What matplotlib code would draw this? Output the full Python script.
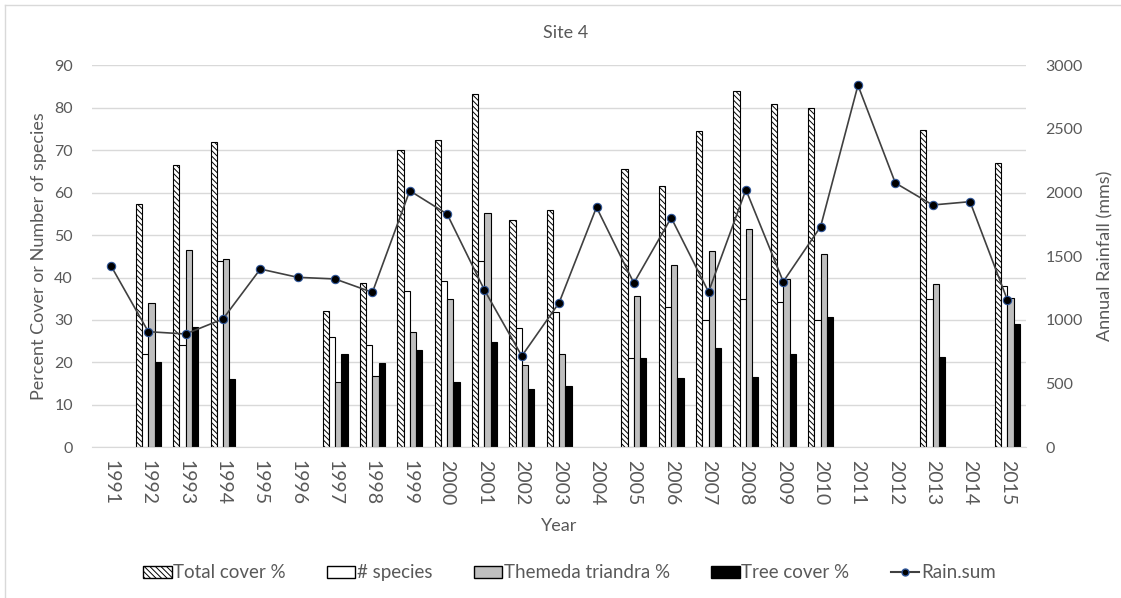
import numpy as np
import matplotlib.pyplot as plt
from matplotlib.patches import Patch
from matplotlib.lines import Line2D

plt.rcParams['font.family'] = ['Lato', 'DejaVu Sans']
plt.rcParams['hatch.linewidth'] = 0.7

nan = np.nan
years = [str(y) for y in range(1991, 2016)]
total_cover = [nan, 57.3, 66.4, 71.9, nan, nan, 32.2, 38.8, 70.0, 72.4, 83.2, 53.6, 56.0,
               nan, 65.6, 61.5, 74.6, 83.9, 80.9, 80.0, nan, nan, 74.8, nan, 66.9]
n_species = [nan, 22.1, 24.1, 44.0, nan, nan, 25.9, 24.0, 36.9, 39.1, 44.0, 28.1, 31.9,
             nan, 21.0, 33.1, 30.0, 34.9, 34.2, 30.0, nan, nan, 35.0, nan, 37.9]
themeda = [nan, 34.1, 46.4, 44.3, nan, nan, 15.5, 16.9, 27.2, 35.0, 55.1, 19.4, 22.1,
           nan, 35.7, 42.9, 46.2, 51.4, 39.6, 45.6, nan, nan, 38.5, nan, 35.2]
tree_cover = [nan, 20.2, 28.4, 16.2, nan, nan, 22.1, 19.9, 22.9, 15.5, 24.9, 13.7, 14.4,
              nan, 21.0, 16.4, 23.5, 16.6, 22.1, 30.6, nan, nan, 21.3, nan, 29.0]
rain_sum = [1426, 908, 890, 1008, 1400, 1335, 1322, 1217, 2015, 1832, 1235, 717, 1136,
            1885, 1290, 1803, 1220, 2023, 1301, 1733, 2843, 2076, 1903, 1929, 1157]

TXT = '#595959'
GRID = '#D9D9D9'
HATCH = '\\\\\\\\\\\\'

fig = plt.figure(figsize=(11.21, 5.98), dpi=100)
ax = fig.add_axes([0.0823, 0.252, 0.833, 0.6388])
x = np.arange(len(years))
w = 0.167

ax.bar(x - 1.5 * w, total_cover, w, color='white', edgecolor='black', linewidth=0.8,
       hatch=HATCH, label='Total cover %')
ax.bar(x - 0.5 * w, n_species, w, color='white', edgecolor='black', linewidth=0.8,
       label='# species')
ax.bar(x + 0.5 * w, themeda, w, color='#BFBFBF', edgecolor='black', linewidth=0.8,
       label='Themeda triandra %')
ax.bar(x + 1.5 * w, tree_cover, w, color='black', edgecolor='black', linewidth=0.8,
       label='Tree cover %')

ax.set_xlim(-0.5, len(years) - 0.5)
ax.set_ylim(0, 90)
ax.set_yticks(range(0, 91, 10))
ax.yaxis.grid(True, color=GRID, linewidth=1)
ax.set_axisbelow(True)
ax.set_xticks(x)
ax.set_xticklabels(years, rotation=270, fontsize=14, color=TXT)
ax.tick_params(axis='y', length=0, labelsize=11.5, labelcolor=TXT, pad=14)
ax.tick_params(axis='x', length=0, pad=9)
for s in ['top', 'left', 'right']:
    ax.spines[s].set_visible(False)
ax.spines['bottom'].set_color(GRID)
ax.set_ylabel('Percent Cover or Number of species', fontsize=13, color=TXT, labelpad=5)
ax.set_xlabel('Year', fontsize=13, color=TXT, labelpad=9)

ax2 = ax.twinx()
ax2.plot(x, rain_sum, color='#404040', linewidth=1.2, marker='o', markersize=6,
         markerfacecolor='black', markeredgecolor='#2F5597', markeredgewidth=0.8)
ax2.set_ylim(0, 3000)
ax2.set_yticks(range(0, 3001, 500))
ax2.tick_params(axis='y', length=0, labelsize=11.5, labelcolor=TXT, pad=14)
for s in ['top', 'left', 'right', 'bottom']:
    ax2.spines[s].set_visible(False)
ax2.set_ylabel('Annual Rainfall (mms)', fontsize=13, color=TXT, labelpad=10)

fig.suptitle('Site 4', x=0.505, y=0.958, fontsize=13, color=TXT)

handles = [
    Patch(facecolor='white', edgecolor='black', hatch=HATCH, label='Total cover %'),
    Patch(facecolor='white', edgecolor='black', label='# species'),
    Patch(facecolor='#BFBFBF', edgecolor='black', label='Themeda triandra %'),
    Patch(facecolor='black', edgecolor='black', label='Tree cover %'),
    Line2D([], [], color='#404040', marker='o', markersize=5, markerfacecolor='black',
           markeredgecolor='#2F5597', label='Rain.sum'),
]
leg = fig.legend(handles=handles, loc='center', bbox_to_anchor=(0.508, 0.042), ncol=5,
                 frameon=False, fontsize=13.5, handlelength=1.5, handleheight=0.6,
                 handletextpad=0.1, columnspacing=2.2)
for t in leg.get_texts():
    t.set_color(TXT)

# chart border
fig.add_artist(Line2D([5 / 1121, 5 / 1121], [0, 1 - 5 / 598], color=GRID, linewidth=1))
fig.add_artist(Line2D([5 / 1121, 1], [1 - 5 / 598, 1 - 5 / 598], color=GRID, linewidth=1))

fig.savefig('out.png', dpi=100)
